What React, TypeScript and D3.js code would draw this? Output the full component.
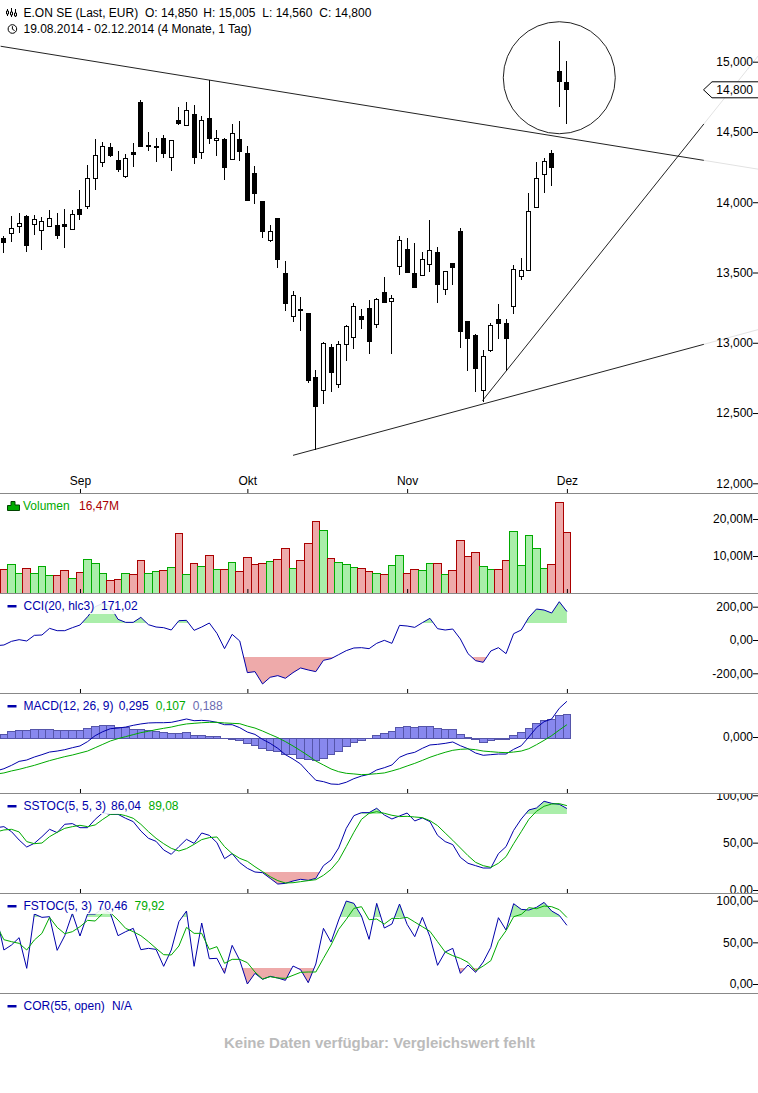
import { useEffect, useRef } from 'react';
import * as d3 from 'd3';

const WIDTH = 758;
const HEIGHT = 1093;

const monthTicks = [10, 32, 53, 74];
const monthLabels = ['Sep', 'Okt', 'Nov', 'Dez'];

// candles, index 0 = 19.08.2014
const opens = [13743, 13776, 13826, 13902, 13840, 13798, 13826, 13831, 13845, 13807, 13949, 13968, 14170, 14281, 14393, 14298, 14182, 14357, 14713, 14407, 14400, 14457, 14319, 14583, 14545, 14625, 14355, 14599, 14440, 14447, 14305, 14447, 14348, 14201, 14002, 13729, 13881, 13496, 13186, 13238, 13205, 12756, 12659, 12963, 12702, 12989, 13036, 13190, 13245, 13129, 13359, 13292, 13544, 13667, 13494, 13480, 13558, 13643, 13378, 13565, 13795, 13152, 13053, 12659, 12944, 13167, 13138, 13259, 13473, 13513, 13964, 14198, 14348, 14927, 14850];
const highs = [13760, 13902, 13921, 13909, 13909, 13897, 13945, 13921, 13952, 13945, 14087, 14265, 14448, 14426, 14419, 14364, 14341, 14419, 14727, 14500, 14455, 14476, 14443, 14678, 14713, 14692, 14611, 14867, 14514, 14455, 14557, 14578, 14400, 14258, 14002, 13835, 13881, 13582, 13366, 13326, 13205, 12804, 13003, 12991, 13010, 13124, 13280, 13238, 13304, 13316, 13466, 13337, 13760, 13743, 13710, 13648, 13873, 13679, 13510, 13565, 13814, 13152, 13062, 12948, 13138, 13276, 13169, 13553, 13601, 14066, 14284, 14312, 14372, 15147, 15005];
const lows = [13641, 13717, 13783, 13646, 13767, 13662, 13826, 13741, 13674, 13807, 13873, 13954, 14087, 14253, 14324, 14217, 14175, 14253, 14395, 14367, 14289, 14315, 14225, 14550, 14545, 14274, 14310, 14417, 14331, 14160, 14305, 14296, 14011, 13990, 13748, 13719, 13534, 13226, 13150, 13086, 12716, 12237, 12567, 12652, 12680, 12872, 12958, 13100, 12922, 13107, 13280, 12922, 13484, 13496, 13392, 13480, 13503, 13285, 13342, 13413, 12965, 12801, 12652, 12578, 12937, 13029, 12801, 13205, 13449, 13513, 13964, 14068, 14118, 14680, 14560];
const closes = [13712, 13814, 13850, 13691, 13878, 13864, 13885, 13762, 13826, 13914, 13911, 14170, 14334, 14398, 14331, 14232, 14312, 14338, 14395, 14395, 14395, 14350, 14440, 14559, 14654, 14317, 14583, 14452, 14455, 14246, 14490, 14360, 14011, 14061, 13790, 13793, 13591, 13278, 13337, 13228, 12730, 12545, 12996, 12787, 12989, 13117, 13259, 13164, 13008, 13309, 13285, 13314, 13729, 13503, 13392, 13594, 13658, 13413, 13508, 13534, 13079, 13029, 12816, 12903, 13124, 13136, 13029, 13522, 13515, 13935, 14170, 14291, 14246, 14858, 14800];

// [index, price] pairs
const trendTop = [[-0.43, 15110], [92, 14298], [99.17, 14235]];
const trendLow = [[38, 12199], [92, 12989], [99.17, 13094]];
const trendSteep = [[62.9, 12588], [92, 14557], [99.17, 15043]];
const circleCenter = [73, 14886];

const volumes = [6.4, 7.75, 5.3, 6.65, 5.3, 7.2, 4.8, 4.8, 6.1, 4.0, 5.6, 9.1, 8.0, 5.3, 3.4, 3.7, 5.3, 5.05, 8.8, 5.3, 5.85, 6.1, 6.95, 16.1, 5.05, 8.0, 7.2, 10.2, 6.4, 6.4, 8.3, 5.85, 9.65, 7.75, 8.0, 8.55, 9.1, 12.05, 6.65, 8.8, 13.4, 19.4, 16.9, 9.35, 8.3, 7.75, 6.95, 6.65, 5.85, 5.3, 5.05, 7.5, 10.2, 5.3, 6.4, 6.1, 8.0, 8.0, 5.05, 6.1, 14.25, 9.9, 11.0, 7.2, 6.4, 6.4, 8.8, 16.65, 7.5, 15.6, 12.05, 6.65, 7.75, 24.5, 16.47];
const volumeUp = [0, 1, 1, 0, 1, 1, 1, 0, 0, 1, 0, 1, 1, 1, 0, 0, 1, 0, 0, 1, 1, 0, 1, 0, 1, 0, 1, 0, 1, 0, 1, 0, 0, 0, 0, 1, 0, 0, 1, 0, 0, 0, 1, 0, 1, 1, 1, 0, 0, 1, 0, 1, 1, 0, 0, 1, 1, 0, 1, 0, 0, 0, 0, 1, 1, 0, 0, 1, 1, 1, 1, 1, 0, 0, 0];

// indicator lists start one session earlier (index -1)
const cci = [-34, -30, -8, 2, -6, 28, 30, 70, 56, 56, 74, 90, 140, 200, 220, 200, 124, 106, 106, 136, 92, 78, 74, 60, 116, 118, 58, 78, 102, 40, -52, 34, -6, -196, -190, -264, -224, -214, -230, -196, -168, -180, -190, -122, -112, -88, -64, -48, -46, -52, -20, -2, -20, 88, 84, 76, 104, 130, 68, 60, 66, 6, -82, -124, -134, -66, -46, -82, 38, 60, 136, 186, 180, 162, 230, 171.02];

const macd = [-0.265, -0.247, -0.220, -0.188, -0.177, -0.153, -0.134, -0.113, -0.105, -0.094, -0.078, -0.064, -0.029, 0.019, 0.051, 0.075, 0.080, 0.088, 0.102, 0.113, 0.121, 0.123, 0.123, 0.126, 0.139, 0.153, 0.139, 0.142, 0.137, 0.126, 0.107, 0.107, 0.083, 0.048, 0.029, -0.011, -0.043, -0.083, -0.134, -0.169, -0.209, -0.276, -0.340, -0.351, -0.370, -0.373, -0.356, -0.327, -0.306, -0.292, -0.257, -0.239, -0.217, -0.155, -0.129, -0.115, -0.083, -0.056, -0.051, -0.043, -0.032, -0.062, -0.086, -0.121, -0.139, -0.134, -0.129, -0.129, -0.091, -0.062, 0.008, 0.083, 0.131, 0.153, 0.239, 0.295];
const macdSignal = [-0.290, -0.281, -0.265, -0.252, -0.236, -0.220, -0.201, -0.182, -0.166, -0.150, -0.137, -0.121, -0.105, -0.078, -0.051, -0.024, -0.005, 0.011, 0.027, 0.043, 0.054, 0.067, 0.078, 0.088, 0.102, 0.113, 0.118, 0.123, 0.126, 0.126, 0.121, 0.118, 0.115, 0.096, 0.080, 0.056, 0.029, 0.003, -0.029, -0.064, -0.102, -0.142, -0.185, -0.217, -0.249, -0.271, -0.284, -0.289, -0.295, -0.292, -0.287, -0.281, -0.265, -0.247, -0.225, -0.204, -0.180, -0.155, -0.134, -0.115, -0.099, -0.091, -0.088, -0.094, -0.105, -0.110, -0.115, -0.118, -0.113, -0.105, -0.086, -0.054, -0.019, 0.019, 0.064, 0.107];
const macdHist = [0.029, 0.054, 0.062, 0.062, 0.070, 0.070, 0.070, 0.062, 0.059, 0.059, 0.062, 0.078, 0.094, 0.102, 0.102, 0.086, 0.086, 0.070, 0.070, 0.059, 0.051, 0.046, 0.038, 0.038, 0.046, 0.021, 0.019, 0.013, 0.011, -0.008, -0.011, -0.021, -0.048, -0.062, -0.086, -0.099, -0.110, -0.131, -0.131, -0.163, -0.172, -0.182, -0.163, -0.131, -0.107, -0.070, -0.040, -0.021, -0.008, 0.021, 0.038, 0.054, 0.083, 0.094, 0.086, 0.094, 0.094, 0.078, 0.070, 0.070, 0.029, 0.005, -0.013, -0.035, -0.019, -0.011, -0.011, 0.021, 0.046, 0.078, 0.118, 0.142, 0.150, 0.182, 0.188];

const sstocK = [65.8, 66.9, 61.6, 52.8, 45.4, 49.3, 56.3, 64.1, 60.6, 69.4, 70.1, 65.8, 65.8, 74.6, 81.7, 79.9, 79.9, 75.7, 72.2, 62.3, 54.6, 51.4, 42.3, 37.7, 45.8, 53.5, 49.3, 60.2, 57.7, 50.0, 33.1, 38.4, 28.9, 22.9, 19.0, 18.3, 12.3, 6.3, 7.0, 9.5, 11.3, 10.2, 12.3, 25.7, 31.7, 44.4, 65.1, 78.5, 81.7, 81.7, 86.3, 79.2, 75.0, 78.2, 81.3, 72.9, 76.1, 72.2, 57.7, 51.1, 47.9, 34.5, 28.2, 25.7, 23.2, 23.2, 38.4, 45.8, 63.0, 75.0, 84.5, 86.6, 93.7, 91.5, 90.5, 86.04];
const sstocD = [61.3, 63.4, 64.1, 61.3, 51.1, 48.9, 49.6, 56.3, 60.9, 65.1, 66.9, 68.3, 66.9, 68.7, 74.6, 79.9, 80.3, 78.5, 75.7, 69.4, 61.6, 54.6, 48.9, 44.0, 41.2, 43.7, 48.2, 53.2, 55.3, 56.0, 45.8, 38.4, 33.4, 30.3, 24.6, 19.4, 14.1, 9.9, 7.4, 7.7, 8.8, 9.9, 10.9, 15.5, 21.8, 31.3, 45.8, 60.9, 74.6, 81.0, 82.7, 81.0, 78.9, 77.5, 77.8, 77.1, 76.4, 73.2, 68.0, 60.2, 52.5, 44.4, 36.3, 29.2, 25.7, 23.9, 28.2, 35.2, 48.9, 61.6, 74.6, 83.1, 88.4, 90.8, 91.2, 89.08];

const fstocK = [82, 40.8, 46.8, 55.6, 18.8, 84, 80, 80.8, 40.4, 58, 84.8, 57.6, 84, 84, 90.8, 84.8, 58, 62.8, 66.8, 41.2, 42.8, 41.6, 21.2, 40.8, 74.8, 87.6, 21.2, 73.2, 30.4, 30.8, 12.8, 46.4, 28.4, 0, 12.8, 5.6, 9.2, 7.2, 4.4, 21.6, 17.2, 1.6, 24, 66.8, 50.4, 76.8, 99.6, 96.8, 81.6, 53.6, 96.8, 67.2, 72, 96, 71.6, 56.8, 80, 56.8, 22.4, 38.4, 42.8, 12.8, 22.8, 14, 26.4, 44, 79.6, 64.8, 96.4, 89.6, 88.8, 92, 98, 87.6, 82.4, 70.46];
const fstocD = [70.8, 53.2, 50.8, 48.8, 40.8, 52.8, 60.8, 80, 68, 60.4, 62.8, 68.8, 76.4, 75.6, 84.8, 85.6, 76.8, 66.8, 62.8, 58, 50.8, 42.8, 35.2, 34.8, 45.6, 68, 60.8, 60.8, 41.6, 44.8, 24.8, 29.6, 29.6, 25.6, 14.4, 6, 8.8, 7.2, 6.8, 10.4, 14, 14.4, 14.4, 30.8, 46.8, 65.6, 77.6, 90.8, 92.8, 77.2, 78, 72, 78.8, 78.8, 80, 74.4, 68.8, 63.2, 50.8, 38.4, 34, 30.8, 26, 16, 21.6, 28, 51.2, 64, 80.8, 83.6, 91.6, 90.4, 93.6, 92.8, 89.2, 79.92];

const BLUE = '#0000aa';
const GREEN = '#00aa00';
const RED = '#aa0000';
const FONT = '"Liberation Sans", Arial, sans-serif';

const comma = (d: number, digits: number) => d.toFixed(digits).replace('.', ',');

export default function App() {
  const svgRef = useRef<SVGSVGElement>(null);

  useEffect(() => {
    if (!svgRef.current) return;
    const svg = d3.select(svgRef.current);
    svg.selectAll('*').remove();
    svg.style('font-family', FONT).style('font-size', '12px');

    const x = d3.scaleLinear().domain([0, 74]).range([3.9, 566.9]);
    const step = x(1) - x(0);

    const yPrice = d3.scaleLinear().domain([12000, 15000]).range([483.3, 61.7]);
    const yVol = d3.scaleLinear().domain([0, 20]).range([593, 519]);
    const yCci = d3.scaleLinear().domain([-200, 200]).range([673.3, 606.7]);
    const yMacd = d3.scaleLinear().domain([0, 0.3]).range([738, 700.7]);
    const ySstoc = d3.scaleLinear().domain([0, 100]).range([890, 795.3]);
    const yFstoc = d3.scaleLinear().domain([0, 100]).range([984, 900.7]);

    // Trend lines: solid up to the end of the plot, faint beyond it
    const trendLine = d3.line<number[]>().x(d => x(d[0])).y(d => yPrice(d[1]));
    [trendTop, trendLow, trendSteep].forEach(t => {
      svg.append('path').attr('d', trendLine(t.slice(1))).attr('fill', 'none').attr('stroke', '#e2e2e2');
      svg.append('path').attr('d', trendLine(t.slice(0, 2))).attr('fill', 'none').attr('stroke', '#222');
    });
    svg.append('circle')
      .attr('cx', x(circleCenter[0]))
      .attr('cy', yPrice(circleCenter[1]))
      .attr('r', 56)
      .attr('fill', 'none')
      .attr('stroke', '#222');

    // Candles
    const candles = svg.append('g').attr('shape-rendering', 'crispEdges');
    const idx = d3.range(opens.length);
    candles.selectAll('line').data(idx).enter().append('line')
      .attr('x1', i => x(i)).attr('x2', i => x(i))
      .attr('y1', i => yPrice(highs[i])).attr('y2', i => yPrice(lows[i]))
      .attr('stroke', '#000');
    candles.selectAll('rect').data(idx).enter().append('rect')
      .attr('x', i => x(i) - 2)
      .attr('width', 4)
      .attr('y', i => yPrice(Math.max(opens[i], closes[i])))
      .attr('height', i => Math.max(1, Math.abs(yPrice(opens[i]) - yPrice(closes[i]))))
      .attr('fill', i => (closes[i] > opens[i] ? '#fff' : '#000'))
      .attr('stroke', '#000');

    // Volume
    svg.append('g').attr('shape-rendering', 'crispEdges')
      .selectAll('rect').data(volumes).enter().append('rect')
      .attr('x', (_, i) => x(i) - step / 2)
      .attr('width', step)
      .attr('y', d => yVol(d))
      .attr('height', d => yVol(0) - yVol(d))
      .attr('fill', (_, i) => (volumeUp[i] ? '#aaeeaa' : '#eeaaaa'))
      .attr('stroke', (_, i) => (volumeUp[i] ? GREEN : RED));

    // Indicator panels
    const seriesLine = (scale: d3.ScaleLinear<number, number>) =>
      d3.line<number>().x((_, i) => x(i - 1)).y(d => scale(d));

    const drawLine = (values: number[], scale: d3.ScaleLinear<number, number>, color: string) => {
      svg.append('path')
        .attr('d', seriesLine(scale)(values))
        .attr('fill', 'none')
        .attr('stroke', color)
        .attr('stroke-width', 1);
    };

    const drawZones = (
      id: string,
      values: number[],
      scale: d3.ScaleLinear<number, number>,
      hi: number,
      lo: number,
      top: number,
      bottom: number,
    ) => {
      const defs = svg.append('defs');
      // clip edges on whole pixels, otherwise the flat part of the area shows as a faint line
      const hiEdge = Math.floor(scale(hi));
      const loEdge = Math.ceil(scale(lo));
      const zones = [
        { key: 'hi', level: hi, y: top, h: hiEdge - top, color: '#aaeeaa' },
        { key: 'lo', level: lo, y: loEdge, h: bottom - loEdge, color: '#eeaaaa' },
      ];
      zones.forEach(z => {
        const clipId = `${id}-${z.key}`;
        defs.append('clipPath').attr('id', clipId).append('rect')
          .attr('x', 0).attr('y', z.y).attr('width', WIDTH).attr('height', z.h);
        const area = d3.area<number>()
          .x((_, i) => x(i - 1))
          .y0(scale(z.level))
          .y1(d => scale(d));
        svg.append('path')
          .attr('d', area(values))
          .attr('fill', z.color)
          .attr('clip-path', `url(#${clipId})`);
      });
    };

    drawZones('cci', cci, yCci, 100, -100, 594, 693);
    drawLine(cci, yCci, BLUE);

    svg.append('g').attr('shape-rendering', 'crispEdges')
      .selectAll('rect').data(macdHist).enter().append('rect')
      .attr('x', (_, i) => x(i) - step / 2)
      .attr('width', step)
      .attr('y', d => Math.min(yMacd(d), yMacd(0)))
      .attr('height', d => Math.abs(yMacd(d) - yMacd(0)))
      .attr('fill', '#8888ee')
      .attr('stroke', '#5555aa');
    drawLine(macd, yMacd, BLUE);
    drawLine(macdSignal, yMacd, GREEN);

    drawZones('sstoc', sstocK, ySstoc, 80, 20, 794, 893);
    drawLine(sstocK, ySstoc, BLUE);
    drawLine(sstocD, ySstoc, GREEN);

    drawZones('fstoc', fstocK, yFstoc, 80, 20, 894, 993);
    drawLine(fstocK, yFstoc, BLUE);
    drawLine(fstocD, yFstoc, GREEN);

    // Separators and month ticks
    [493, 593, 693, 793, 893, 993].forEach((yy, i) => {
      svg.append('rect').attr('x', 0).attr('y', yy).attr('width', WIDTH).attr('height', 1).attr('fill', '#888');
      if (i === 5) return;
      const axis = d3.axisTop(x)
        .tickValues(monthTicks)
        .tickSize(4)
        .tickPadding(4)
        .tickFormat(((_: number, k: number) => (i === 0 ? monthLabels[k] : '')) as any);
      const g = svg.append('g').attr('transform', `translate(0,${yy})`).call(axis);
      g.select('.domain').remove();
      g.selectAll('text').attr('font-family', FONT).attr('font-size', 12).attr('fill', '#000');
    });

    // Right hand value axes
    const rightAxis = (
      scale: d3.ScaleLinear<number, number>,
      ticks: number[],
      fmt: (d: number) => string,
      clip?: string,
      shift = 0,
    ) => {
      const axis = d3.axisLeft(scale)
        .tickValues(ticks)
        .tickSize(5)
        .tickPadding(0)
        .tickFormat(fmt as any);
      const g = svg.append('g').attr('transform', `translate(${WIDTH},${shift})`).call(axis);
      g.select('.domain').remove();
      g.selectAll('text').attr('font-family', FONT).attr('font-size', 12).attr('fill', '#000');
      if (clip) g.attr('clip-path', `url(#${clip})`);
    };

    const clips = svg.append('defs');
    clips.append('clipPath').attr('id', 'sstoc-axis').append('rect')
      .attr('x', -WIDTH).attr('y', 794).attr('width', WIDTH).attr('height', 99);

    const thousands = (d: number) => d3.format(',')(d);
    rightAxis(yPrice, [12000, 12500, 13000, 13500, 14000, 14500, 15000], thousands);
    rightAxis(yVol, [10, 20], d => `${comma(d, 2)}M`);
    rightAxis(yCci, [-200, 0, 200], d => comma(d, 2));
    rightAxis(yMacd, [0], d => comma(d, 3), undefined, -1);
    rightAxis(ySstoc, [0, 50, 100], d => comma(d, 2), 'sstoc-axis');
    rightAxis(yFstoc, [0, 50, 100], d => comma(d, 2));

    // Last price tag
    const lastClose = closes[closes.length - 1];
    const tagY = yPrice(lastClose);
    const tag = d3.path();
    tag.moveTo(759, tagY - 8);
    tag.lineTo(712, tagY - 8);
    tag.lineTo(703.5, tagY);
    tag.lineTo(712, tagY + 8);
    tag.lineTo(759, tagY + 8);
    svg.append('path').attr('d', tag.toString()).attr('fill', '#fff').attr('stroke', '#000');
    svg.append('text')
      .attr('x', 753).attr('y', tagY + 4)
      .attr('text-anchor', 'end')
      .text(thousands(lastClose));

    // Legends
    const label = (tx: number, ty: number, text: string, color = '#000') =>
      svg.append('text').attr('x', tx).attr('y', ty).attr('fill', color).text(text);

    const last = opens.length - 1;
    label(23.5, 17, 'E.ON SE (Last, EUR)');
    label(145, 17, `O: ${thousands(opens[last])}`);
    label(203.3, 17, `H: ${thousands(highs[last])}`);
    label(262.3, 17, `L: ${thousands(lows[last])}`);
    label(319.3, 17, `C: ${thousands(closes[last])}`);
    label(23.5, 33, '19.08.2014 - 02.12.2014 (4 Monate, 1 Tag)');

    // chart icon
    const icon = svg.append('g').attr('stroke', '#000').attr('fill', 'none');
    icon.append('path').attr('d', 'M7.5 9V16M11.5 8V17M15.5 9V17');
    icon.append('path').attr('d', 'M6.5 11h2v3h-2zM10.5 12h2v3h-2zM14.5 13h2v3h-2z').attr('fill', '#fff');
    // clock icon
    const clock = svg.append('g').attr('stroke', '#000').attr('fill', 'none');
    clock.append('circle').attr('cx', 12.4).attr('cy', 29).attr('r', 4.3);
    clock.append('path').attr('d', 'M12.4 26.2V29.2L14.6 30.6');

    const legendBox = (panelTop: number, right: number) =>
      svg.append('rect')
        .attr('x', 0).attr('y', panelTop + 1)
        .attr('width', right).attr('height', 20)
        .attr('fill', '#fff').attr('fill-opacity', 0.88);

    const dash = (panelTop: number) =>
      svg.append('rect')
        .attr('x', 7.5).attr('y', panelTop + 12)
        .attr('width', 9).attr('height', 2.5)
        .attr('fill', BLUE);

    // volume icon
    svg.append('path')
      .attr('d', 'M7.5 510.5V505.5H11V501.5H15V505H19.5V510.5Z')
      .attr('fill', GREEN)
      .attr('stroke', '#004400');
    label(23, 510, 'Volumen', GREEN);
    label(79, 510, `${comma(volumes[last], 2)}M`, RED);

    legendBox(593, 140);
    dash(593);
    label(23.5, 610, 'CCI(20, hlc3)', BLUE);
    label(101, 610, comma(cci[cci.length - 1], 2), BLUE);

    dash(693);
    label(23.5, 710, 'MACD(12, 26, 9)', BLUE);
    label(118.7, 710, comma(macd[macd.length - 1], 3), BLUE);
    label(155.7, 710, comma(macdSignal[macdSignal.length - 1], 3), GREEN);
    label(192.7, 710, comma(macdHist[macdHist.length - 1], 3), '#6a6ab0');

    legendBox(793, 180);
    dash(793);
    label(23.5, 810, 'SSTOC(5, 5, 3)', BLUE);
    label(111, 810, comma(sstocK[sstocK.length - 1], 2), BLUE);
    label(148.5, 810, comma(sstocD[sstocD.length - 1], 2), GREEN);

    legendBox(893, 166);
    dash(893);
    label(23.5, 910, 'FSTOC(5, 3)', BLUE);
    label(97.5, 910, comma(fstocK[fstocK.length - 1], 2), BLUE);
    label(134.5, 910, comma(fstocD[fstocD.length - 1], 2), GREEN);

    dash(993);
    label(23.5, 1010, 'COR(55, open)', BLUE);
    label(112, 1010, 'N/A', BLUE);

    svg.append('text')
      .attr('x', 379.5).attr('y', 1048)
      .attr('text-anchor', 'middle')
      .attr('font-weight', 'bold')
      .attr('font-size', 15)
      .attr('fill', '#bbbbbb')
      .text('Keine Daten verfügbar: Vergleichswert fehlt');
  }, []);

  return (
    <svg
      ref={svgRef}
      width={WIDTH}
      height={HEIGHT}
      style={{ display: 'block', position: 'absolute', left: 0, top: 0, background: '#fff' }}
    />
  );
}
